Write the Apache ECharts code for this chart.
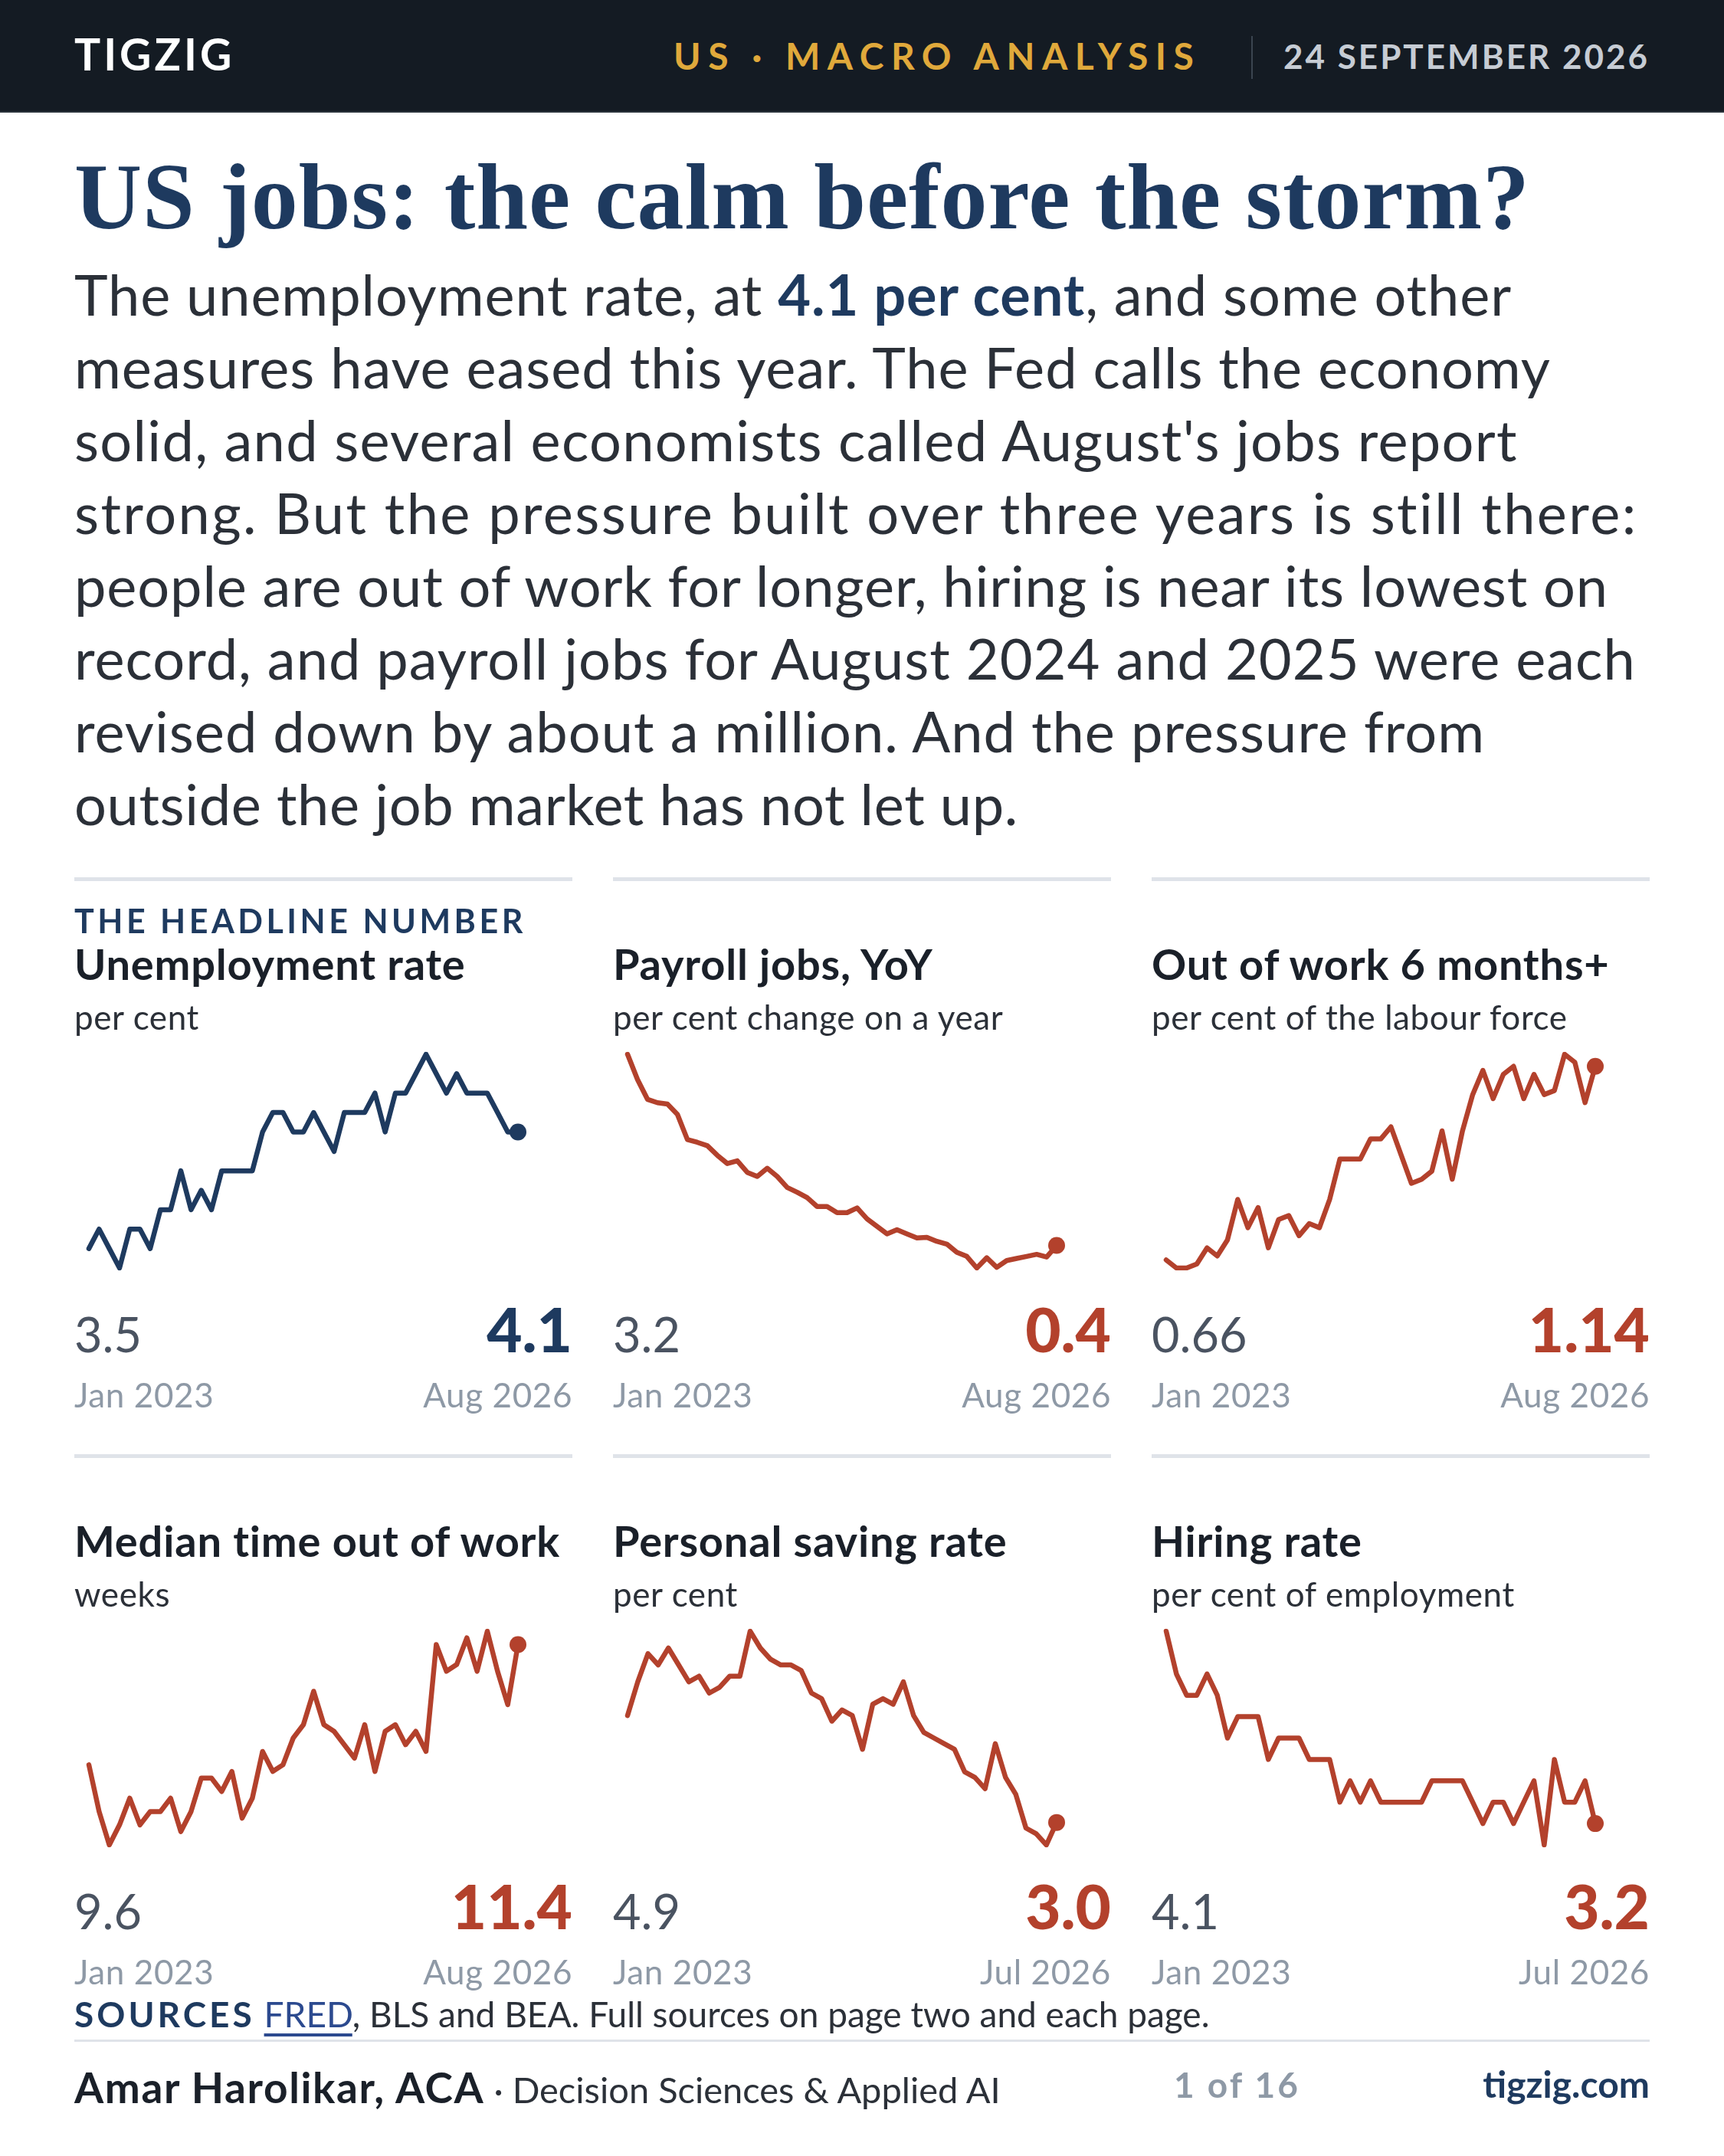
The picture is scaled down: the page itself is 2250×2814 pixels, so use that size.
<!DOCTYPE html>
<html>
<head>
<meta charset="utf-8">
<script src="https://cdn.jsdelivr.net/npm/echarts@6/dist/echarts.min.js"></script>
<style>
  html, body { margin: 0; padding: 0; background: #fff; }
  #page { position: relative; width: 2250px; height: 2814px; overflow: hidden; font-family: Lato, "Noto Sans", sans-serif; }
  #chart { position: absolute; left: 0; top: 0; width: 2250px; height: 2814px; }
  .t { position: absolute; white-space: nowrap; line-height: 1; }
  .rule { position: absolute; background: #dfe3e9; }
</style>
</head>
<body>
<div id="page">
  <div id="chart"></div>
</div>
<script>
// months shown on the sparklines
var monthsAug = ['Jan 2023','Feb 2023','Mar 2023','Apr 2023','May 2023','Jun 2023','Jul 2023','Aug 2023','Sep 2023','Oct 2023','Nov 2023','Dec 2023',
  'Jan 2024','Feb 2024','Mar 2024','Apr 2024','May 2024','Jun 2024','Jul 2024','Aug 2024','Sep 2024','Oct 2024','Nov 2024','Dec 2024',
  'Jan 2025','Feb 2025','Mar 2025','Apr 2025','May 2025','Jun 2025','Jul 2025','Aug 2025','Sep 2025','Oct 2025','Nov 2025','Dec 2025',
  'Jan 2026','Feb 2026','Mar 2026','Apr 2026','May 2026','Jun 2026','Jul 2026','Aug 2026'];
// household survey series: no October 2025 release
var monthsCps = monthsAug.filter(function(m){ return m !== 'Oct 2025'; });
var monthsJul = monthsAug.slice(0, 43);

var unempRate = [3.5,3.6,3.5,3.4,3.6,3.6,3.5,3.7,3.7,3.9,3.7,3.8,3.7,3.9,3.9,3.9,3.9,4.1,4.2,4.2,4.1,4.1,4.2,4.1,4.0,4.2,4.2,4.2,4.3,4.1,4.3,4.3,4.4,4.5,4.4,4.3,4.4,4.3,4.3,4.3,4.2,4.1,4.1];
var payrollYoy = [3.2,2.83,2.54,2.49,2.47,2.32,1.95,1.91,1.86,1.72,1.60,1.64,1.47,1.41,1.53,1.41,1.25,1.18,1.10,0.97,0.97,0.88,0.88,0.95,0.79,0.68,0.57,0.63,0.57,0.51,0.52,0.46,0.42,0.30,0.24,0.07,0.22,0.08,0.18,0.21,0.24,0.27,0.23,0.40];
var longTermShare = [0.66,0.64,0.64,0.65,0.69,0.67,0.71,0.81,0.74,0.79,0.69,0.76,0.77,0.72,0.75,0.74,0.81,0.91,0.91,0.91,0.96,0.96,0.99,0.92,0.85,0.86,0.88,0.98,0.86,0.98,1.07,1.13,1.06,1.12,1.14,1.06,1.12,1.07,1.08,1.17,1.15,1.05,1.14];
var medianWeeks = [9.6,8.9,8.4,8.7,9.1,8.7,8.9,8.9,9.1,8.6,8.9,9.4,9.4,9.2,9.5,8.8,9.1,9.8,9.5,9.6,10.0,10.2,10.7,10.2,10.1,9.9,9.7,10.2,9.5,10.1,10.2,9.9,10.1,9.8,11.4,11.0,11.1,11.5,11.0,11.6,11.0,10.5,11.4];
var savingRate = [4.9,5.5,6.0,5.8,6.1,5.8,5.5,5.6,5.3,5.4,5.6,5.6,6.4,6.1,5.9,5.8,5.8,5.7,5.3,5.2,4.8,5.0,4.9,4.3,5.1,5.2,5.1,5.5,4.9,4.6,4.5,4.4,4.3,3.9,3.8,3.6,4.4,3.8,3.5,2.9,2.8,2.6,3.0];
var hiringRate = [4.1,3.9,3.8,3.8,3.9,3.8,3.6,3.7,3.7,3.7,3.5,3.6,3.6,3.6,3.5,3.5,3.5,3.3,3.4,3.3,3.4,3.3,3.3,3.3,3.3,3.3,3.4,3.4,3.4,3.4,3.3,3.2,3.3,3.3,3.2,3.3,3.4,3.1,3.5,3.3,3.3,3.4,3.2];

var panelTitles = ['Unemployment rate','Payroll jobs, YoY','Out of work 6 months+','Median time out of work','Personal saving rate','Hiring rate'];
var panelUnits = ['per cent','per cent change on a year','per cent of the labour force','weeks','per cent','per cent of employment'];

var NAVY = '#1e3a5f', RUST = '#b3412c';

var panels = [
  {data: unempRate,     months: monthsCps, dec: 1, color: NAVY, kicker: 'THE HEADLINE NUMBER'},
  {data: payrollYoy,    months: monthsAug, dec: 1, color: RUST},
  {data: longTermShare, months: monthsCps, dec: 2, color: RUST},
  {data: medianWeeks,   months: monthsCps, dec: 1, color: RUST},
  {data: savingRate,    months: monthsJul, dec: 1, color: RUST},
  {data: hiringRate,    months: monthsJul, dec: 1, color: RUST}
];

var page = document.getElementById('page');
// baseline helpers (Lato: baseline sits at ~0.887em below box top with line-height 1)
function txt(s, x, base, size, style, align) {
  var d = document.createElement('div');
  d.className = 't';
  d.innerHTML = s;
  var top = base - size * 0.887;
  d.style.cssText += 'top:' + top + 'px;font-size:' + size + 'px;' + (style || '');
  if (align === 'right') d.style.right = (2250 - x) + 'px'; else d.style.left = x + 'px';
  page.appendChild(d);
  return d;
}
// spread a line so it ends where the original wraps
function fit(el, right) {
  var w = el.getBoundingClientRect().width;
  var n = el.textContent.length;
  var ls = (right - el.offsetLeft - w) / n;
  el.style.letterSpacing = ls.toFixed(2) + 'px';
}
function rule(x, y, w, h, col) {
  var d = document.createElement('div');
  d.className = 'rule';
  d.style.cssText = 'left:' + x + 'px;top:' + y + 'px;width:' + w + 'px;height:' + h + 'px;' + (col ? 'background:' + col + ';' : '');
  page.appendChild(d);
}

// header band
rule(0, 0, 2250, 145, '#141b23');
rule(0, 145, 2250, 2, '#2a323b');
txt('TIGZIG', 97, 93, 57, 'font-weight:700;color:#fff;letter-spacing:4px;');
txt('US &middot; MACRO ANALYSIS', 879, 92, 48, 'font-weight:700;color:#e0a93b;letter-spacing:9.5px;');
rule(1633, 47, 2, 56, '#3b4550');
txt('24 SEPTEMBER 2026', 2153, 90, 44, 'font-weight:700;color:#c6ccd4;letter-spacing:3px;', 'right');

// headline
var h = document.createElement('div');
h.className = 't';
h.textContent = 'US jobs: the calm before the storm?';
h.style.cssText += 'left:97px;top:' + (298 - 122 * 0.8375) + 'px;font-family:"Liberation Serif",serif;font-weight:700;font-size:122px;color:' + NAVY + ';';
page.appendChild(h);
fit(h, 1997);

// standfirst
var bodyLines = [
  'The unemployment rate, at <b style="color:' + NAVY + '">4.1 per cent</b>, and some other',
  'measures have eased this year. The Fed calls the economy',
  'solid, and several economists called August\'s jobs report',
  'strong. But the pressure built over three years is still there:',
  'people are out of work for longer, hiring is near its lowest on',
  'record, and payroll jobs for August 2024 and 2025 were each',
  'revised down by about a million. And the pressure from',
  'outside the job market has not let up.'
];
var bodyEnds = [1973, 2024, 1981, 2139, 2099, 2135, 1938, 1329];
bodyLines.forEach(function(l, i) {
  var el = txt(l, 97, 413 + i * 95, 74, 'color:#2b3038;');
  fit(el, bodyEnds[i]);
});

// panels
var colX = [97, 800, 1503], PW = 650;
var ruleY = [1145, 1898];
var grids = [], xAxes = [], yAxes = [], series = [];
panels.forEach(function(p, i) {
  var x = colX[i % 3], R = ruleY[Math.floor(i / 3)];
  var last = p.data.length - 1;
  rule(x, R, PW, 5);
  if (p.kicker) txt(p.kicker, x, R + 73, 43, 'font-weight:700;color:' + NAVY + ';letter-spacing:4.5px;');
  txt(panelTitles[i], x, R + 135, 56, 'font-weight:700;color:#1a2029;letter-spacing:0.8px;');
  txt(panelUnits[i], x, R + 199, 44, 'color:#2b3038;letter-spacing:0.6px;');
  txt(p.data[0].toFixed(p.dec), x, R + 620, 63, 'color:#4a5361;');
  txt(p.data[last].toFixed(p.dec), x + PW, R + 620, 80, 'font-weight:900;color:' + p.color + ';', 'right');
  txt(p.months[0], x, R + 692, 44, 'color:#8e99a6;letter-spacing:0.6px;');
  txt(p.months[last], x + PW, R + 692, 44, 'color:#8e99a6;letter-spacing:0.6px;', 'right');

  grids.push({left: x + 19, top: R + 231, width: 560, height: 279});
  xAxes.push({type: 'category', gridIndex: i, data: p.months, boundaryGap: false, show: false});
  yAxes.push({type: 'value', gridIndex: i, min: 'dataMin', max: 'dataMax', scale: true, show: false});
  series.push({
    type: 'line', xAxisIndex: i, yAxisIndex: i, data: p.data,
    showAllSymbol: true, symbol: 'circle',
    symbolSize: function(v, prm) { return prm.dataIndex === last ? 22 : 0; },
    itemStyle: {color: p.color},
    lineStyle: {color: p.color, width: 6.5, cap: 'round', join: 'round'},
    silent: true
  });
});

// sources + footer
txt('<b style="color:' + NAVY + ';letter-spacing:4px;">SOURCES</b> <span style="color:#2c4a8f;text-decoration:underline;text-decoration-thickness:4px;text-underline-offset:8px;">FRED</span>, BLS and BEA. Full sources on page two and each page.',
  97, 2647, 46, 'color:#2b3038;');
rule(97, 2662, 2056, 3);
txt('<b style="font-size:55px;color:#1a2029;letter-spacing:1.6px;">Amar Harolikar, ACA</b> &middot; Decision Sciences &amp; Applied AI', 97, 2739, 47, 'color:#2b3038;');
txt('1 of 16', 1532, 2739, 46, 'font-weight:700;color:#8e99a6;letter-spacing:3px;');
txt('tigzig.com', 2153, 2739, 48, 'font-weight:700;color:' + NAVY + ';', 'right');

var chart = echarts.init(document.getElementById('chart'));
chart.setOption({
  animation: false,
  grid: grids,
  xAxis: xAxes,
  yAxis: yAxes,
  series: series
});
</script>
</body>
</html>
